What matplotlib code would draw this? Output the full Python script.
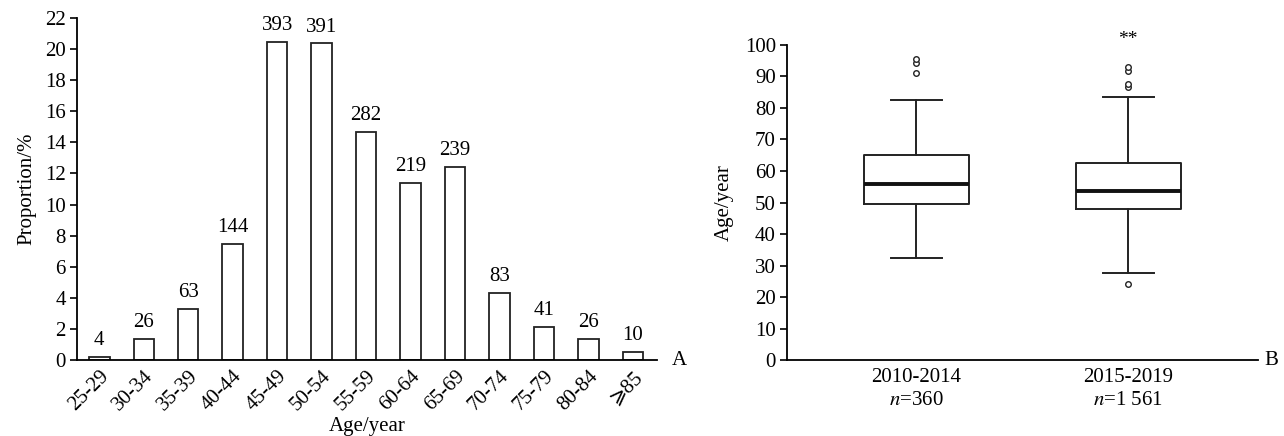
import matplotlib.pyplot as plt

plt.rcParams['font.family'] = ['Liberation Serif', 'DejaVu Serif', 'DejaVu Sans']
plt.rcParams['mathtext.fontset'] = 'stix'
plt.rcParams['font.size'] = 15

# Panel A: age distribution of cases
age_groups = ['25-29', '30-34', '35-39', '40-44', '45-49', '50-54', '55-59',
              '60-64', '65-69', '70-74', '75-79', '80-84', '⩾85']
counts = [4, 26, 63, 144, 393, 391, 282, 219, 239, 83, 41, 26, 10]
total = sum(counts)
proportion = [c / total * 100 for c in counts]

# Panel B: box plot summary of age by period
periods = ['2010-2014', '2015-2019']
n_cases = ['360', '1 561']
whisker_low = [32.5, 27.5]
q1 = [49.5, 48.0]
median = [56.0, 53.5]
q3 = [65.0, 62.5]
whisker_high = [82.5, 83.5]
outliers = [[91.0, 94.2, 95.5], [24.3, 86.6, 87.6, 91.8, 92.9]]

fig = plt.figure(figsize=(12.84, 4.36), dpi=100)

# ---- A ----
ax1 = fig.add_axes([0.060, 0.174, 0.452, 0.785])
x = list(range(len(age_groups)))
ax1.bar(x, proportion, width=0.46, color='white', edgecolor='#222222', linewidth=1.3)
for xi, p, c in zip(x, proportion, counts):
    ax1.annotate(str(c), (xi, p), xytext=(0, 5), textcoords='offset points',
                 ha='center', va='bottom', fontsize=15)
ax1.set_xlim(-0.5, 12.55)
ax1.set_ylim(0, 22)
ax1.set_yticks(range(0, 23, 2))
ax1.set_xticks(x)
ax1.set_xticklabels(age_groups, rotation=45, ha='right', rotation_mode='anchor')
ax1.tick_params(axis='x', length=0, pad=5)
ax1.tick_params(axis='y', direction='out', length=5, width=1.2, pad=3)
ax1.spines['top'].set_visible(False)
ax1.spines['right'].set_visible(False)
for s in ('left', 'bottom'):
    ax1.spines[s].set_linewidth(1.3)
ax1.set_ylabel('Proportion/%', labelpad=6)
ax1.set_xlabel('Age/year')
ax1.xaxis.set_label_coords(0.5, -0.165)
fig.text(0.523, 0.174, 'A', ha='left', va='center', fontsize=15)

# ---- B ----
ax2 = fig.add_axes([0.613, 0.174, 0.367, 0.723])
stats = []
for i in range(len(periods)):
    stats.append(dict(med=median[i], q1=q1[i], q3=q3[i],
                      whislo=whisker_low[i], whishi=whisker_high[i],
                      fliers=outliers[i]))
ax2.bxp(stats, positions=[1, 2], widths=0.495, showfliers=True,
        boxprops=dict(color='#222222', linewidth=1.4),
        whiskerprops=dict(color='#222222', linewidth=1.4),
        capprops=dict(color='#222222', linewidth=1.4),
        medianprops=dict(color='#111111', linewidth=2.8),
        flierprops=dict(marker='o', markersize=4, markerfacecolor='white',
                        markeredgecolor='#222222', markeredgewidth=1.0),
        capwidths=0.24)
ax2.set_xlim(0.392, 2.613)
ax2.set_ylim(0, 100)
ax2.set_yticks(range(0, 101, 10))
ax2.set_xticks([1, 2])
ax2.set_xticklabels([f'{p}\n$n$={n}' for p, n in zip(periods, n_cases)],
                    linespacing=1.25)
ax2.tick_params(axis='x', length=0, pad=6)
ax2.tick_params(axis='y', direction='out', length=5, width=1.2, pad=3)
ax2.spines['top'].set_visible(False)
ax2.spines['right'].set_visible(False)
for s in ('left', 'bottom'):
    ax2.spines[s].set_linewidth(1.3)
ax2.set_ylabel('Age/year', labelpad=8)
ax2.text(2, 101.8, '**', ha='center', va='center', fontsize=14, clip_on=False)
fig.text(0.985, 0.174, 'B', ha='left', va='center', fontsize=15)

fig.savefig('out.png', dpi=100)
